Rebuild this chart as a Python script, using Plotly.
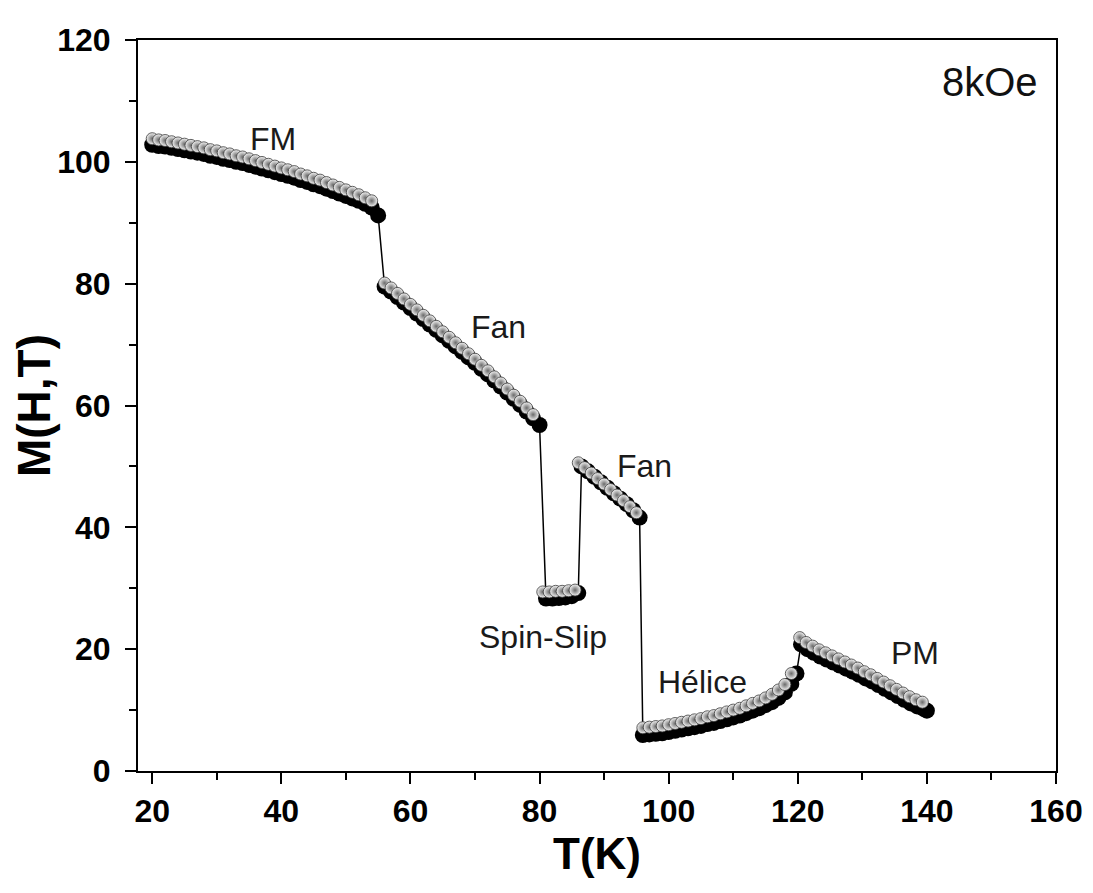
import plotly.graph_objects as go

# ---- data ----
# black series (lower band, connected by a thin line)
fm_T = list(range(20, 56))
fm_M = [102.8, 102.6, 102.5, 102.3, 102.1, 101.9, 101.7, 101.5, 101.3, 101.0,
        100.8, 100.5, 100.3, 100.0, 99.8, 99.5, 99.2, 98.9, 98.6, 98.3,
        98.0, 97.7, 97.4, 97.0, 96.7, 96.3, 96.0, 95.6, 95.2, 94.8,
        94.4, 94.0, 93.6, 93.1, 92.5, 91.2]
fan1_T = list(range(56, 81))
fan1_M = [79.5, 78.7, 77.8, 76.9, 76.0, 75.1, 74.2, 73.3, 72.4, 71.5,
          70.6, 69.7, 68.8, 67.9, 67.0, 66.0, 65.1, 64.1, 63.1, 62.1,
          61.1, 60.1, 59.0, 57.9, 56.8]
slip_T = [81, 82, 83, 84, 85, 86]
slip_M = [28.3, 28.3, 28.4, 28.5, 28.7, 29.2]
fan2_T = [86.5, 87.5, 88.5, 89.5, 90.5, 91.5, 92.5, 93.5, 94.5, 95.5]
fan2_M = [50.0, 49.2, 48.3, 47.4, 46.5, 45.6, 44.7, 43.8, 42.8, 41.6]
hel_T = [96, 97, 98, 99, 100, 101, 102, 103, 104, 105, 106, 107, 108, 109,
         110, 111, 112, 113, 114, 115, 116, 117, 118, 119, 119.8]
hel_M = [5.9, 6.0, 6.1, 6.2, 6.4, 6.6, 6.8, 7.0, 7.2, 7.4, 7.7, 7.9, 8.2, 8.5,
         8.8, 9.1, 9.5, 9.9, 10.3, 10.8, 11.3, 12.0, 12.9, 14.3, 16.0]
pm_T = [120.5, 121.5, 122.5, 123.5, 124.5, 125.5, 126.5, 127.5, 128.5, 129.5,
        130.5, 131.5, 132.5, 133.5, 134.5, 135.5, 136.5, 137.5, 138.5, 139.5, 140]
pm_M = [20.8, 20.0, 19.4, 18.8, 18.3, 17.8, 17.3, 16.8, 16.3, 15.8,
        15.2, 14.7, 14.1, 13.5, 12.9, 12.3, 11.7, 11.1, 10.6, 10.2, 9.9]

# gray series (upper band)
g_fm_T = list(range(20, 55))
g_fm_M = [103.8, 103.6, 103.5, 103.3, 103.1, 102.9, 102.7, 102.5, 102.3, 102.0,
          101.8, 101.5, 101.3, 101.0, 100.8, 100.5, 100.2, 99.9, 99.6, 99.3,
          99.0, 98.7, 98.4, 98.0, 97.7, 97.3, 97.0, 96.6, 96.2, 95.8,
          95.4, 95.0, 94.6, 94.1, 93.6]
g_fan1_T = list(range(56, 80))
g_fan1_M = [80.1, 79.3, 78.4, 77.5, 76.6, 75.7, 74.8, 73.9, 73.0, 72.1,
            71.2, 70.3, 69.4, 68.5, 67.6, 66.6, 65.7, 64.7, 63.7, 62.7,
            61.7, 60.7, 59.6, 58.5]
g_slip_T = [80.5, 81.5, 82.5, 83.5, 84.5, 85.5]
g_slip_M = [29.4, 29.4, 29.5, 29.5, 29.6, 29.7]
g_fan2_T = [86, 87, 88, 89, 90, 91, 92, 93, 94, 95]
g_fan2_M = [50.6, 49.8, 48.9, 48.0, 47.1, 46.2, 45.3, 44.4, 43.4, 42.4]
g_hel_T = [96, 97, 98, 99, 100, 101, 102, 103, 104, 105, 106, 107, 108, 109,
           110, 111, 112, 113, 114, 115, 116, 117, 118, 119]
g_hel_M = [7.1, 7.2, 7.3, 7.4, 7.6, 7.8, 8.0, 8.2, 8.4, 8.6, 8.9, 9.1, 9.4, 9.7,
           10.0, 10.3, 10.7, 11.1, 11.5, 12.0, 12.6, 13.3, 14.2, 16.0]
g_pm_T = [120.3, 121.3, 122.3, 123.3, 124.3, 125.3, 126.3, 127.3, 128.3, 129.3,
          130.3, 131.3, 132.3, 133.3, 134.3, 135.3, 136.3, 137.3, 138.3, 139.3]
g_pm_M = [21.9, 21.1, 20.5, 19.9, 19.4, 18.9, 18.4, 17.9, 17.4, 16.9,
          16.3, 15.8, 15.2, 14.6, 14.0, 13.4, 12.8, 12.2, 11.7, 11.3]

labels = ["FM", "Fan", "Fan", "Spin-Slip", "Hélice", "PM"]
label_T = [38.7, 73.6, 96.3, 80.5, 105.3, 138.1]
label_M = [103.8, 72.9, 50.0, 22.0, 14.6, 19.4]
field_label = "8kOe"

x_ticks = [20, 40, 60, 80, 100, 120, 140, 160]
y_ticks = [0, 20, 40, 60, 80, 100, 120]

# ---- build ----
black_T = fm_T + fan1_T + slip_T + fan2_T + hel_T + pm_T
black_M = fm_M + fan1_M + slip_M + fan2_M + hel_M + pm_M
gray_T = g_fm_T + g_fan1_T + g_slip_T + g_fan2_T + g_hel_T + g_pm_T
gray_M = g_fm_M + g_fan1_M + g_slip_M + g_fan2_M + g_hel_M + g_pm_M

fig = go.Figure()
fig.add_trace(go.Scatter(
    x=black_T, y=black_M, mode="lines+markers",
    line=dict(color="black", width=1.5),
    marker=dict(symbol="circle", size=16, color="black"),
    showlegend=False, hoverinfo="skip"))
fig.add_trace(go.Scatter(
    x=gray_T, y=gray_M, mode="markers",
    marker=dict(symbol="circle", size=12, color="#f4f4f4",
                gradient=dict(type="radial", color="#6a6a6a"),
                line=dict(color="#3a3a3a", width=0.8)),
    showlegend=False, hoverinfo="skip"))

ann_font = dict(family="Liberation Sans, Arial, sans-serif", size=32, color="#1a1a1a")
for t, x, y in zip(labels, label_T, label_M):
    fig.add_annotation(x=x, y=y, text=t, showarrow=False, font=ann_font,
                       xanchor="center", yanchor="middle")
fig.add_annotation(x=0.983, y=0.975, xref="paper", yref="paper", text=field_label,
                   showarrow=False, xanchor="right", yanchor="top",
                   font=dict(family="Liberation Sans, Arial, sans-serif", size=40, color="#111"))

axis_common = dict(showline=True, linecolor="black", linewidth=2, mirror=True,
                   ticks="outside", tickcolor="black", tickwidth=2, ticklen=11,
                   showgrid=False, zeroline=False)
fig.update_xaxes(
    range=[17.8, 160], tickvals=x_ticks, ticktext=[str(v) for v in x_ticks],
    tickfont=dict(family="Liberation Sans, Arial, sans-serif",
                  size=32, color="black", weight="bold"),
    minor=dict(tickvals=[30, 50, 70, 90, 110, 130, 150], ticks="outside", ticklen=7,
               tickwidth=2, tickcolor="black"),
    title=dict(text="T(K)", standoff=6,
               font=dict(family="Liberation Sans, Arial, sans-serif",
                         size=44, color="black", weight="bold")),
    **axis_common)
fig.update_yaxes(
    range=[0, 120], tickvals=y_ticks, ticktext=[str(v) for v in y_ticks],
    tickfont=dict(family="Liberation Sans, Arial, sans-serif", size=32, color="black",
                  weight="bold"),
    ticklabelstandoff=8,
    minor=dict(tickvals=[10, 30, 50, 70, 90, 110], ticks="outside", ticklen=7,
               tickwidth=2, tickcolor="black"),
    title=dict(text="M(H,T)", standoff=18,
               font=dict(family="Liberation Sans, Arial, sans-serif", size=46,
                         color="black", weight="bold")),
    **axis_common)

fig.update_layout(
    width=1093, height=893,
    margin=dict(l=130, r=45, t=32, b=130, autoexpand=False),
    plot_bgcolor="white", paper_bgcolor="white")

fig.write_html("out.html")
